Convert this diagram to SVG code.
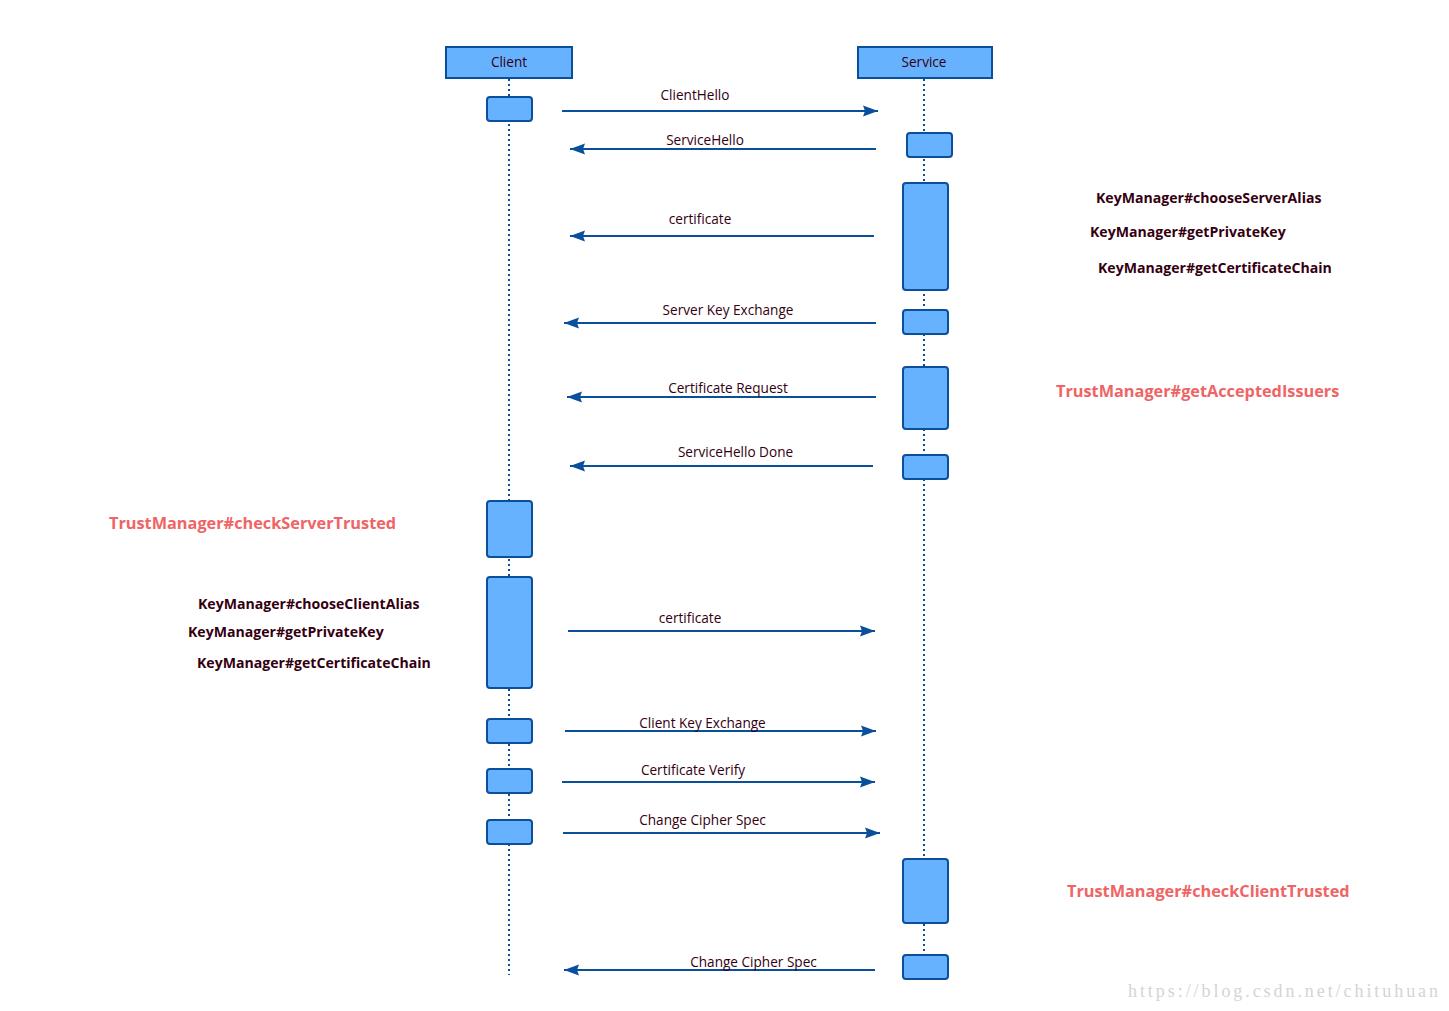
<svg xmlns="http://www.w3.org/2000/svg" width="1449" height="1011" viewBox="0 0 1449 1011">
<defs>
<marker id="ah" markerWidth="16" markerHeight="12" refX="15" refY="6" orient="auto" markerUnits="userSpaceOnUse">
<path d="M0,0.5 L15,6 L0,11.5 L2,6 Z" fill="#0a4f9c"/>
</marker>
<style>
.hdr{fill:#66b2ff;stroke:#0a4f9c;stroke-width:2}
.act{fill:#66b2ff;stroke:#0a4f9c;stroke-width:2}
.life{stroke:#0a4f9c;stroke-width:2;stroke-dasharray:2 3;fill:none}
.msg{stroke:#0a4f9c;stroke-width:2;fill:none;marker-end:url(#ah)}
.t{font-family:"Segoe UI","Open Sans","Noto Sans",sans-serif;font-size:13.6px;fill:#330011;text-anchor:middle}
.b{font-family:"Segoe UI","Open Sans","Noto Sans",sans-serif;font-size:14.1px;font-weight:bold;fill:#330011}
.r{font-family:"Segoe UI","Open Sans","Noto Sans",sans-serif;font-size:16.3px;font-weight:bold;fill:#ef6464}
.wm{font-family:"Liberation Serif",serif;font-size:18px;fill:#d4d4d4}
</style>
</defs>
<rect width="1449" height="1011" fill="#ffffff"/>

<g id="lifelines">
<line class="life" x1="509" y1="79" x2="509" y2="975"/>
<line class="life" x1="924" y1="79" x2="924" y2="955"/>
</g>

<g id="client">
<rect class="hdr" x="446" y="47" width="126" height="31"/>
<text class="t" x="509" y="67">Client</text>
</g>
<g id="service">
<rect class="hdr" x="858" y="47" width="134" height="31"/>
<text class="t" x="924" y="67">Service</text>
</g>

<g id="client-activations">
<rect class="act" x="487" y="97" width="45" height="24" rx="3"/>
<rect class="act" x="487" y="501" width="45" height="56" rx="3"/>
<rect class="act" x="487" y="577" width="45" height="111" rx="3"/>
<rect class="act" x="487" y="719" width="45" height="24" rx="3"/>
<rect class="act" x="487" y="769" width="45" height="24" rx="3"/>
<rect class="act" x="487" y="820" width="45" height="24" rx="3"/>
</g>

<g id="service-activations">
<rect class="act" x="907" y="133" width="45" height="24" rx="3"/>
<rect class="act" x="903" y="183" width="45" height="107" rx="3"/>
<rect class="act" x="903" y="310" width="45" height="24" rx="3"/>
<rect class="act" x="903" y="367" width="45" height="62" rx="3"/>
<rect class="act" x="903" y="455" width="45" height="24" rx="3"/>
<rect class="act" x="903" y="859" width="45" height="64" rx="3"/>
<rect class="act" x="903" y="955" width="45" height="24" rx="3"/>
</g>

<g id="connectors">
<line class="msg" x1="562" y1="111" x2="878" y2="111"/>
<line class="msg" x1="876" y1="149" x2="570" y2="149"/>
<line class="msg" x1="874" y1="236" x2="570" y2="236"/>
<line class="msg" x1="876" y1="323" x2="564" y2="323"/>
<line class="msg" x1="876" y1="397" x2="567" y2="397"/>
<line class="msg" x1="873" y1="466" x2="570" y2="466"/>
<line class="msg" x1="568" y1="631" x2="875" y2="631"/>
<line class="msg" x1="565" y1="731" x2="876" y2="731"/>
<line class="msg" x1="562" y1="782" x2="875" y2="782"/>
<line class="msg" x1="563" y1="833" x2="880" y2="833"/>
<line class="msg" x1="875" y1="970" x2="564" y2="970"/>
</g>

<g id="labels">
<text class="t" x="695" y="100">ClientHello</text>
<text class="t" x="705" y="145">ServiceHello</text>
<text class="t" x="700" y="224">certificate</text>
<text class="t" x="728" y="315">Server Key Exchange</text>
<text class="t" x="728" y="393">Certificate Request</text>
<text class="t" x="735.5" y="457">ServiceHello Done</text>
<text class="t" x="690" y="623">certificate</text>
<text class="t" x="702.5" y="728">Client Key Exchange</text>
<text class="t" x="693" y="775">Certificate Verify</text>
<text class="t" x="702.5" y="825">Change Cipher Spec</text>
<text class="t" x="753.5" y="967">Change Cipher Spec</text>
</g>

<g id="notes">
<text class="b" x="1096" y="203">KeyManager#chooseServerAlias</text>
<text class="b" x="1090" y="237">KeyManager#getPrivateKey</text>
<text class="b" x="1098" y="273">KeyManager#getCertificateChain</text>
<text class="r" x="1056" y="397">TrustManager#getAcceptedIssuers</text>
<text class="r" x="109" y="529">TrustManager#checkServerTrusted</text>
<text class="b" x="198" y="609">KeyManager#chooseClientAlias</text>
<text class="b" x="188" y="637">KeyManager#getPrivateKey</text>
<text class="b" x="197" y="668">KeyManager#getCertificateChain</text>
<text class="r" x="1067" y="897">TrustManager#checkClientTrusted</text>
</g>

<text class="wm" x="1128" y="997" textLength="310">https://blog.csdn.net/chituhuan</text>
</svg>
